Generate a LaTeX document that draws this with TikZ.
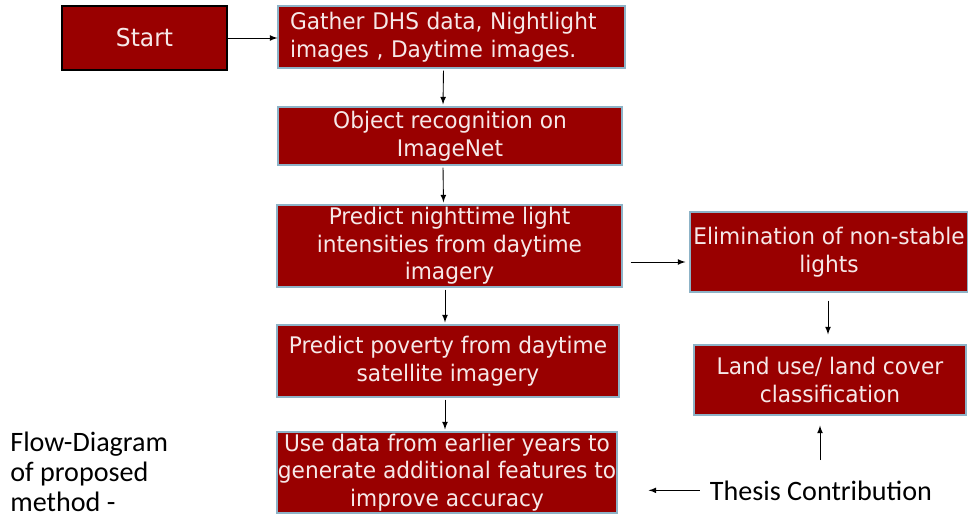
\documentclass[tikz,border=0pt]{standalone}
\usepackage{fontspec}
\setmainfont{Carlito}
\newfontfamily\boxfont{DejaVu Sans}[FakeStretch=0.95]
\usetikzlibrary{calc}

\definecolor{boxred}{HTML}{990000}
\definecolor{boxline}{HTML}{8DB3C7}
\definecolor{boxtext}{HTML}{F6E8E8}

\tikzset{
	stepbox/.style={draw=boxline, line width=0.7pt, fill=boxred, text=boxtext, align=center, inner sep=0pt,
		font=\boxfont\fontsize{13}{15.6}\selectfont},
	arr/.style={-latex, line width=0.5pt},
	plain/.style={inner sep=0pt, font=\fontsize{16}{17}\selectfont},
}

\begin{document}
\begin{tikzpicture}
		%%%%% START %%%%%
		\useasboundingbox (0, 0) rectangle (19.36, -10.34);
		
		% main column
		\node[stepbox, draw=black, minimum width=3.3cm, minimum height=1.28cm, font=\boxfont\fontsize{14}{17}\selectfont] (start) at (2.89, -0.76) {Start};
		\node[stepbox, align=left, text width=6.46cm, inner xsep=0.24cm, minimum height=1.24cm] (gather) at (9.03, -0.74) {Gather DHS data, Nightlight\\images , Daytime images.};
		\node[stepbox, minimum width=6.88cm, minimum height=1.16cm] (object) at (9.0, -2.72) {Object recognition on\\ImageNet};
		\node[stepbox, minimum width=6.9cm, minimum height=1.64cm] (night) at (8.99, -4.92) {Predict nighttime light\\intensities from daytime\\imagery};
		\node[stepbox, minimum width=6.84cm, minimum height=1.44cm] (poverty) at (8.96, -7.22) {Predict poverty from daytime\\satellite imagery};
		\node[stepbox, minimum width=6.8cm, minimum height=1.62cm] (usedata) at (8.94, -9.45) {Use data from earlier years to\\generate additional features to\\improve accuracy};
		
		% thesis column
		\node[stepbox, minimum width=5.56cm, minimum height=1.6cm] (elim) at (16.58, -5.04) {Elimination of non-stable\\lights};
		\node[stepbox, minimum width=5.44cm, minimum height=1.4cm] (landuse) at (16.6, -7.6) {Land use/ land cover\\classification};
		
		% labels
		\node[plain, align=left, anchor=north west] (caption) at (0.2, -8.64) {Flow-Diagram\\of proposed\\method -};
		\node[plain, anchor=base] (thesis) at (16.42, -10.0) {Thesis Contribution};
		
		% arrows
		\draw[arr] (start.east) -- (start.east -| gather.west);
		\draw[arr, shorten <=0.04cm, shorten >=0.04cm] ([xshift=-0.16cm]gather.south) -- ([xshift=-0.14cm]object.north);
		\draw[arr, shorten <=0.04cm, shorten >=0.04cm] ([xshift=-0.14cm]object.south) -- ([xshift=-0.12cm]night.north);
		\draw[arr, shorten <=0.04cm, shorten >=0.04cm] ([xshift=-0.09cm]night.south) -- ([xshift=-0.06cm]poverty.north);
		\draw[arr, shorten <=0.04cm, shorten >=0.04cm] ([xshift=-0.06cm]poverty.south) -- ([xshift=-0.04cm]usedata.north);
		\draw[arr, shorten <=0.16cm, shorten >=0.08cm] ([yshift=-0.32cm]night.east) -- ([yshift=-0.32cm]night.east -| elim.west);
		\draw[arr, shorten <=0.16cm, shorten >=0.2cm] ([xshift=-0.02cm]elim.south) -- ([xshift=-0.02cm]elim.south |- landuse.north);
		\draw[arr, shorten <=0.4cm, shorten >=0.2cm] ([xshift=-0.02cm]thesis.north) -- ([xshift=-0.02cm]thesis.north |- landuse.south);
		\draw[arr, shorten <=0.2cm, shorten >=0.62cm] (thesis.west) -- (thesis.west -| usedata.east);
		
		%%%%% END %%%%%
	\end{tikzpicture}
\end{document}
